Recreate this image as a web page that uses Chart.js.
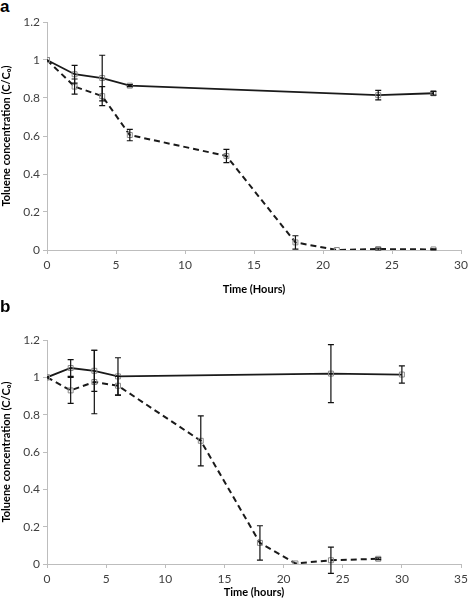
<!DOCTYPE html>
<html>
<head>
<meta charset="utf-8">
<script src="https://cdn.jsdelivr.net/npm/chart.js@4/dist/chart.umd.min.js"></script>
<style>
  html, body { margin: 0; padding: 0; background: #fff; }
  #wrap { position: relative; width: 472px; height: 603px; overflow: hidden; }
  .panel { position: absolute; left: 0; width: 472px; }
  .tag { position: absolute; left: 0; font: bold 17px "Liberation Sans", Arial, sans-serif; color: #000; }
</style>
</head>
<body>
<div id="wrap">
  <div class="tag" style="top:-3px">a</div>
  <div class="panel" style="top:0;height:300px"><canvas id="chart-a"></canvas></div>
  <div class="tag" style="top:297px">b</div>
  <div class="panel" style="top:300px;height:303px"><canvas id="chart-b"></canvas></div>
</div>
<script>
// Panel a
const aSolidTime = [0, 2, 4, 6, 24, 28];
const aSolidConc = [1, 0.925, 0.905, 0.865, 0.815, 0.825];
const aSolidErr = [0, 0.047, 0.12, 0.005, 0.025, 0.01];
const aDashTime = [0, 2, 4, 6, 13, 18, 21, 24, 28];
const aDashConc = [1, 0.86, 0.81, 0.605, 0.495, 0.04, 0, 0.005, 0.003];
const aDashErr = [0, 0.04, 0.05, 0.03, 0.035, 0.035, 0, 0.005, 0.003];

// Panel b
const bSolidTime = [0, 2, 4, 6, 24, 30];
const bSolidConc = [1, 1.05, 1.035, 1.005, 1.02, 1.015];
const bSolidErr = [0, 0.045, 0.11, 0.1, 0.155, 0.046];
const bDashTime = [0, 2, 4, 6, 13, 18, 21, 24, 28];
const bDashConc = [1, 0.93, 0.975, 0.955, 0.66, 0.113, 0.003, 0.02, 0.028];
const bDashErr = [0, 0.07, 0.17, 0.05, 0.134, 0.092, 0, 0.07, 0.005];

const yTicks = [0, 0.2, 0.4, 0.6, 0.8, 1, 1.2];

const FONT = "Lato, 'Open Sans', sans-serif";

/**
 * Build points from x and y arrays
 */
function points(xs, ys) {
  return xs.map((x, i) => ({ x: x, y: ys[i] }));
}

/**
 * Vertical error bars with caps, drawn through the chart scales
 */
const errorBars = {
  id: "errorBars",
  afterDatasetsDraw(chart) {
    const ctx = chart.ctx;
    const xs = chart.scales.x;
    const ys = chart.scales.y;
    ctx.save();
    ctx.strokeStyle = "#111";
    ctx.lineWidth = 1.2;
    chart.data.datasets.forEach((ds) => {
      ds.data.forEach((p, i) => {
        const e = ds.errors[i];
        if (!e) return;
        const px = xs.getPixelForValue(p.x);
        const top = ys.getPixelForValue(p.y + e);
        const bot = ys.getPixelForValue(p.y - e);
        ctx.beginPath();
        ctx.moveTo(px, top);
        ctx.lineTo(px, bot);
        ctx.moveTo(px - 3, top);
        ctx.lineTo(px + 3, top);
        ctx.moveTo(px - 3, bot);
        ctx.lineTo(px + 3, bot);
        ctx.stroke();
      });
    });
    ctx.restore();
  },
};

function series(xs, ys, errs, dashed) {
  return {
    data: points(xs, ys),
    errors: errs,
    showLine: true,
    borderColor: "#1a1a1a",
    borderWidth: dashed ? 2 : 1.8,
    borderDash: dashed ? [6, 4] : [],
    pointStyle: "rect",
    pointRadius: 3.5,
    pointBorderColor: "#8a8a8a",
    pointBackgroundColor: "rgba(255,255,255,0)",
    pointBorderWidth: 1,
  };
}

function makeChart(id, solid, dash, xMax, xTitle, pad, xHeight) {
  return new Chart(document.getElementById(id), {
    type: "scatter",
    data: {
      datasets: [series(dash[0], dash[1], dash[2], true), series(solid[0], solid[1], solid[2], false)],
    },
    plugins: [errorBars],
    options: {
      responsive: true,
      maintainAspectRatio: false,
      animation: false,
      layout: { padding: pad },
      plugins: { legend: { display: false }, tooltip: { enabled: false } },
      scales: {
        x: {
          type: "linear",
          min: 0,
          max: xMax,
          afterFit: (s) => { s.height = xHeight; },
          border: { display: true, color: "#bdbdbd" },
          grid: { drawOnChartArea: false, tickLength: 4, color: "#bdbdbd" },
          ticks: { stepSize: 5, color: "#404040", font: { family: FONT, size: 12 }, padding: 4 },
          title: { display: true, text: xTitle, color: "#000", font: { family: FONT, size: 11, weight: "bold" }, padding: { top: 2 } },
        },
        y: {
          min: 0,
          max: 1.2,
          afterFit: (s) => { s.width = 47; },
          afterBuildTicks: (s) => { s.ticks = yTicks.map((v) => ({ value: v })); },
          border: { display: true, color: "#bdbdbd" },
          grid: { drawOnChartArea: false, tickLength: 4, color: "#bdbdbd" },
          ticks: { color: "#404040", font: { family: FONT, size: 12 }, padding: 3, callback: (v) => String(v) },
          title: { display: true, text: "Toluene concentration (C/C\u2080)", color: "#000", font: { family: FONT, size: 11, weight: "bold" }, padding: 0 },
        },
      },
    },
  });
}

makeChart("chart-a", [aSolidTime, aSolidConc, aSolidErr], [aDashTime, aDashConc, aDashErr],
  30, "Time (Hours)", { top: 22, right: 6, left: 0, bottom: 0 }, 50);
makeChart("chart-b", [bSolidTime, bSolidConc, bSolidErr], [bDashTime, bDashConc, bDashErr],
  35, "Time (hours)", { top: 40, right: 9, left: 0, bottom: 0 }, 39);
</script>
</body>
</html>
